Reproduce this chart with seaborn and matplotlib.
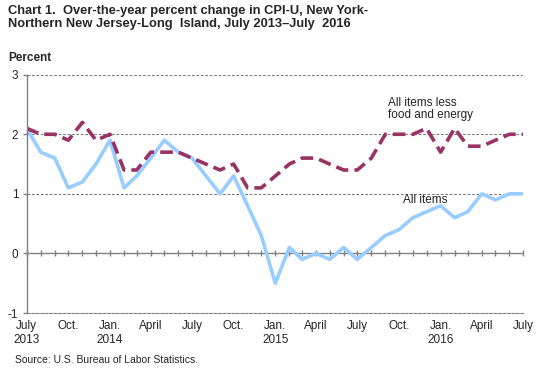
import pandas as pd
import matplotlib
matplotlib.use("Agg")
import matplotlib.pyplot as plt
import seaborn as sns

# Data: over-the-year percent change, NY-NNJ-Long Island, July 2013 - July 2016
months = pd.date_range("2013-07-01", "2016-07-01", freq="MS")
all_items = [2.1, 1.7, 1.6, 1.1, 1.2, 1.5, 1.9, 1.1, 1.3, 1.6, 1.9, 1.7,
             1.6, 1.3, 1.0, 1.3, 0.8, 0.3, -0.5, 0.1, -0.1, 0.0, -0.1, 0.1,
             -0.1, 0.1, 0.3, 0.4, 0.6, 0.7, 0.8, 0.6, 0.7, 1.0, 0.9, 1.0, 1.0]
core = [2.1, 2.0, 2.0, 1.9, 2.2, 1.9, 2.0, 1.4, 1.4, 1.7, 1.7, 1.7,
        1.6, 1.5, 1.4, 1.5, 1.1, 1.1, 1.3, 1.5, 1.6, 1.6, 1.5, 1.4,
        1.4, 1.6, 2.0, 2.0, 2.0, 2.1, 1.7, 2.1, 1.8, 1.8, 1.9, 2.0, 2.0]
tick_dates = pd.date_range("2013-07-01", "2016-07-01", freq="3MS")
tick_labels = ["July\n2013", "Oct.", "Jan.\n2014", "April", "July", "Oct.",
               "Jan.\n2015", "April", "July", "Oct.", "Jan.\n2016", "April", "July"]

df = pd.DataFrame({"month": months, "all_items": all_items, "core": core})

sns.set_style("white")
plt.rcParams["font.family"] = ["Liberation Sans", "DejaVu Sans"]

fig = plt.figure(figsize=(5.43, 3.73), dpi=100)
ax = fig.add_axes([26.7 / 543, 1 - 313 / 373, (523 - 26.7) / 543, (313 - 74.7) / 373])

sns.lineplot(data=df, x="month", y="all_items", ax=ax, color="#99CCFF", lw=2.6)
sns.lineplot(data=df, x="month", y="core", ax=ax, color="#993366", lw=2.6,
             dashes=False, linestyle=(0, (3.5, 1.7)))

ax.set_xlim(months[0], months[-1])
ax.set_ylim(-1, 3)
ax.set_yticks([-1, 0, 1, 2, 3])
ax.set_yticklabels(["-1", "0", "1", "2", "3"])
ax.set_xlabel("")
ax.set_ylabel("")

# gridlines
for v in [1, 2, 3]:
    ax.axhline(v, color="#808080", lw=0.8, ls=(0, (2.5, 1.5)), zorder=0)
ax.axhline(0, color="#808080", lw=1.0, zorder=1)

for s in ["top", "right"]:
    ax.spines[s].set_visible(False)
ax.spines["left"].set_color("#808080")
ax.spines["left"].set_linewidth(1.0)
ax.spines["bottom"].set_color("#808080")
ax.spines["bottom"].set_linewidth(0.8)
ax.spines["bottom"].set_linestyle((0, (2.5, 1.5)))

ax.tick_params(axis="y", left=True, length=3, width=1, color="#808080",
               labelsize=8.5, pad=3)
ax.set_xticks(tick_dates)
ax.set_xticklabels(tick_labels, fontsize=8.5)
ax.tick_params(axis="x", bottom=False, length=0, pad=5)

# monthly tick marks along the zero line
zero_ax = ax.secondary_xaxis(0.25)
zero_ax.set_xticks(months)
zero_ax.set_xticklabels([])
zero_ax.tick_params(direction="inout", length=5, width=1, color="#808080")
zero_ax.spines["bottom"].set_visible(False)

ax.text(pd.Timestamp("2015-09-07"), 2.22, "All items less\nfood and energy",
        fontsize=8.5, linespacing=1.0, va="bottom")
ax.text(pd.Timestamp("2015-10-10"), 0.8, "All items", fontsize=8.5, va="bottom")

fig.text(8 / 543, 1 - 5 / 373,
         "Chart 1.  Over-the-year percent change in CPI-U, New York-\n"
         "Northern New Jersey-Long  Island, July 2013\u2013July  2016",
         fontsize=9.3, fontweight="bold", va="top", ha="left", linespacing=1.1)
fig.text(8 / 543, 1 - 52 / 373, "Percent", fontsize=8.5, fontweight="bold",
         va="top", ha="left")
fig.text(15 / 543, 1 - 355 / 373, "Source: U.S. Bureau of Labor Statistics.",
         fontsize=7.5, va="top", ha="left")

fig.savefig("out.png", dpi=100)
